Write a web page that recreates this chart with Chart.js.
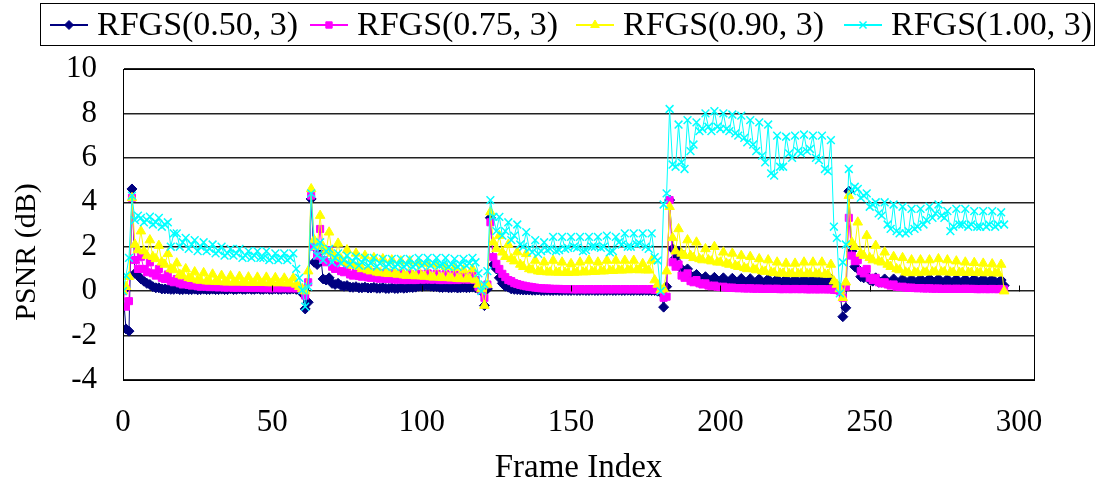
<!DOCTYPE html>
<html>
<head>
<meta charset="utf-8">
<title>RFGS PSNR</title>
<script src="https://cdn.jsdelivr.net/npm/chart.js@4.4.0/dist/chart.umd.min.js"></script>
<style>
  html, body { margin: 0; padding: 0; background: #fff; }
  #wrap { width: 1097px; height: 486px; }
</style>
</head>
<body>
<div id="wrap"><canvas id="myChart" width="1097" height="486"></canvas></div>
<script>
// series names, in legend order
var seriesNames = ['RFGS(0.50, 3)', 'RFGS(0.75, 3)', 'RFGS(0.90, 3)', 'RFGS(1.00, 3)'];

// PSNR gain (dB) per frame, frames 0..295
var rfgs050 = [
  0.0, -1.7, -1.8, 4.6, 0.8, 0.7, 0.55, 0.45, 0.35, 0.3,
  0.2, 0.15, 0.15, 0.1, 0.1, 0.1, 0.08, 0.08, 0.1, 0.07,
  0.07, 0.09, 0.07, 0.07, 0.09, 0.06, 0.07, 0.09, 0.07, 0.07,
  0.09, 0.07, 0.07, 0.09, 0.07, 0.07, 0.1, 0.07, 0.08, 0.1,
  0.08, 0.08, 0.1, 0.08, 0.08, 0.1, 0.08, 0.08, 0.1, 0.08,
  0.08, 0.1, 0.08, 0.08, 0.1, 0.08, 0.09, 0.1, 0.08, 0.05,
  -0.1, -0.8, -0.5, 4.15, 1.3, 1.2, 1.8, 0.55, 0.5, 0.6,
  0.35, 0.3, 0.35, 0.25, 0.22, 0.25, 0.18, 0.17, 0.2, 0.15,
  0.15, 0.18, 0.14, 0.14, 0.17, 0.13, 0.13, 0.16, 0.12, 0.12,
  0.15, 0.12, 0.12, 0.15, 0.13, 0.14, 0.17, 0.16, 0.18, 0.22,
  0.22, 0.24, 0.25, 0.22, 0.2, 0.2, 0.17, 0.16, 0.18, 0.15,
  0.15, 0.17, 0.14, 0.15, 0.17, 0.15, 0.16, 0.18, 0.15, 0.1,
  0.0, -0.65, 0.1, 3.3, 1.2, 1.0, 0.6, 0.35, 0.22, 0.18,
  0.1, 0.08, 0.07, 0.06, 0.05, 0.05, 0.05, 0.04, 0.04, 0.05,
  0.03, 0.03, 0.04, 0.03, 0.03, 0.04, 0.03, 0.03, 0.04, 0.03,
  0.03, 0.04, 0.03, 0.03, 0.04, 0.03, 0.03, 0.04, 0.03, 0.03,
  0.04, 0.03, 0.03, 0.04, 0.03, 0.03, 0.04, 0.03, 0.03, 0.04,
  0.03, 0.03, 0.04, 0.03, 0.03, 0.04, 0.03, 0.03, 0.03, 0.0,
  -0.05, -0.72, 0.2, 4.1, 1.9, 1.5, 1.8, 1.0, 0.9, 1.0,
  0.7, 0.65, 0.75, 0.55, 0.55, 0.65, 0.5, 0.5, 0.62, 0.45,
  0.45, 0.6, 0.42, 0.42, 0.58, 0.4, 0.4, 0.57, 0.38, 0.38,
  0.56, 0.37, 0.37, 0.55, 0.36, 0.36, 0.55, 0.35, 0.35, 0.55,
  0.35, 0.36, 0.55, 0.35, 0.36, 0.56, 0.36, 0.36, 0.56, 0.36,
  0.37, 0.57, 0.37, 0.37, 0.57, 0.36, 0.37, 0.55, 0.35, 0.25,
  0.0, -1.15, -0.75, 4.5, 1.8, 1.1, 1.0, 0.65, 0.6, 0.7,
  0.5, 0.45, 0.6, 0.4, 0.4, 0.55, 0.38, 0.38, 0.55, 0.36,
  0.36, 0.55, 0.36, 0.36, 0.55, 0.36, 0.36, 0.56, 0.37, 0.37,
  0.57, 0.37, 0.37, 0.56, 0.36, 0.36, 0.55, 0.36, 0.36, 0.55,
  0.36, 0.36, 0.55, 0.37, 0.37, 0.56, 0.37, 0.37, 0.56, 0.37,
  0.37, 0.56, 0.37, 0.37, 0.5, 0.25
];

var rfgs075 = [
  0.0, -0.7, -0.45, 4.2, 1.4, 1.0, 1.55, 1.0, 0.85, 1.3,
  0.8, 0.7, 1.0, 0.6, 0.55, 0.75, 0.45, 0.4, 0.55, 0.35,
  0.3, 0.45, 0.28, 0.25, 0.35, 0.22, 0.2, 0.28, 0.2, 0.18,
  0.25, 0.18, 0.17, 0.22, 0.16, 0.16, 0.21, 0.15, 0.15, 0.2,
  0.15, 0.14, 0.19, 0.14, 0.14, 0.18, 0.14, 0.13, 0.18, 0.13,
  0.13, 0.17, 0.13, 0.13, 0.17, 0.13, 0.13, 0.17, 0.12, 0.15,
  0.05, -0.2, 0.4, 4.3, 2.0, 1.6, 2.8, 1.4, 1.3, 1.85,
  1.1, 1.0, 1.35, 0.9, 0.85, 1.1, 0.75, 0.7, 1.0, 0.68,
  0.65, 0.9, 0.62, 0.6, 0.85, 0.58, 0.56, 0.82, 0.55, 0.54,
  0.8, 0.52, 0.52, 0.8, 0.5, 0.5, 0.78, 0.5, 0.5, 0.78,
  0.52, 0.52, 0.8, 0.52, 0.52, 0.78, 0.5, 0.5, 0.76, 0.5,
  0.5, 0.75, 0.5, 0.52, 0.75, 0.52, 0.52, 0.78, 0.5, 0.2,
  0.05, -0.3, 0.3, 3.1, 1.53, 1.23, 1.0, 0.78, 0.63, 0.5,
  0.45, 0.36, 0.32, 0.28, 0.25, 0.22, 0.2, 0.18, 0.16, 0.14,
  0.13, 0.12, 0.12, 0.11, 0.1, 0.1, 0.1, 0.09, 0.09, 0.09,
  0.09, 0.08, 0.08, 0.09, 0.08, 0.08, 0.09, 0.08, 0.08, 0.09,
  0.08, 0.08, 0.09, 0.08, 0.08, 0.09, 0.08, 0.08, 0.09, 0.08,
  0.08, 0.09, 0.08, 0.08, 0.09, 0.08, 0.08, 0.09, 0.06, 0.06,
  0.05, -0.3, -0.25, 4.1, 1.3, 1.1, 1.2, 0.7, 0.6, 0.8,
  0.45, 0.4, 0.5, 0.35, 0.3, 0.35, 0.25, 0.22, 0.25, 0.2,
  0.18, 0.2, 0.16, 0.15, 0.16, 0.14, 0.13, 0.14, 0.12, 0.12,
  0.13, 0.11, 0.11, 0.12, 0.1, 0.1, 0.11, 0.1, 0.1, 0.11,
  0.09, 0.09, 0.1, 0.09, 0.09, 0.1, 0.09, 0.09, 0.1, 0.08,
  0.08, 0.09, 0.08, 0.08, 0.09, 0.08, 0.08, 0.08, 0.06, 0.05,
  0.0, -0.3, 0.2, 3.3, 1.6, 1.35, 1.4, 0.9, 0.8, 1.0,
  0.6, 0.5, 0.6, 0.4, 0.35, 0.4, 0.3, 0.25, 0.3, 0.2,
  0.18, 0.2, 0.16, 0.15, 0.16, 0.14, 0.13, 0.14, 0.12, 0.12,
  0.13, 0.11, 0.11, 0.12, 0.1, 0.1, 0.11, 0.1, 0.1, 0.11,
  0.1, 0.1, 0.11, 0.1, 0.1, 0.1, 0.09, 0.09, 0.1, 0.09,
  0.09, 0.1, 0.09, 0.09, 0.1, 0.08
];

var rfgs090 = [
  0.0, 0.2, 0.65, 4.2, 2.1, 1.85, 2.7, 1.8, 1.6, 2.3,
  1.55, 1.45, 2.05, 1.3, 1.2, 1.68, 1.0, 0.95, 1.26, 0.75,
  0.68, 1.0, 0.6, 0.56, 0.86, 0.5, 0.48, 0.82, 0.45, 0.44,
  0.76, 0.43, 0.42, 0.7, 0.41, 0.4, 0.68, 0.4, 0.4, 0.66,
  0.4, 0.39, 0.63, 0.38, 0.38, 0.62, 0.38, 0.38, 0.62, 0.37,
  0.37, 0.6, 0.37, 0.37, 0.58, 0.36, 0.36, 0.58, 0.3, 0.2,
  0.1, 0.0, 0.9, 4.6, 2.3, 2.0, 3.4, 2.0, 1.8, 2.65,
  1.7, 1.5, 2.15, 1.45, 1.3, 1.85, 1.25, 1.15, 1.7, 1.1,
  1.0, 1.6, 0.95, 0.9, 1.5, 0.85, 0.82, 1.45, 0.8, 0.78,
  1.4, 0.78, 0.75, 1.35, 0.72, 0.7, 1.35, 0.7, 0.68, 1.3,
  0.68, 0.66, 1.25, 0.64, 0.62, 1.2, 0.62, 0.6, 1.1, 0.6,
  0.58, 1.05, 0.56, 0.55, 0.95, 0.55, 0.55, 1.0, 0.5, 0.3,
  0.1, -0.65, 0.3, 3.56, 2.2, 1.9, 2.5, 1.75, 1.55, 2.1,
  1.45, 1.35, 1.76, 1.2, 1.1, 1.68, 1.0, 0.95, 1.38, 0.9,
  0.88, 1.3, 0.86, 0.85, 1.38, 0.85, 0.84, 1.3, 0.84, 0.83,
  1.23, 0.84, 0.85, 1.3, 0.86, 0.86, 1.38, 0.88, 0.88, 1.3,
  0.9, 0.9, 1.38, 0.92, 0.92, 1.38, 0.94, 0.94, 1.38, 0.95,
  0.96, 1.38, 0.96, 0.95, 1.23, 0.95, 0.94, 1.38, 0.5, 0.3,
  0.05, 0.1, 0.9, 3.8, 2.4, 1.8, 2.8, 1.7, 1.6, 2.3,
  1.6, 1.5, 2.2, 1.45, 1.4, 1.9, 1.4, 1.35, 2.0, 1.3,
  1.3, 1.75, 1.25, 1.2, 1.7, 1.15, 1.1, 1.6, 1.05, 1.0,
  1.55, 1.0, 0.95, 1.45, 0.9, 0.88, 1.4, 0.85, 0.82, 1.3,
  0.8, 0.8, 1.25, 0.78, 0.78, 1.25, 0.78, 0.78, 1.3, 0.78,
  0.78, 1.3, 0.78, 0.77, 1.3, 0.76, 0.75, 1.2, 0.45, 0.3,
  0.1, -0.3, 0.4, 4.3, 2.2, 2.0, 3.1, 1.7, 1.6, 2.5,
  1.5, 1.4, 2.05, 1.35, 1.3, 1.75, 1.2, 1.1, 1.55, 1.0,
  0.95, 1.5, 0.85, 0.82, 1.4, 0.85, 0.82, 1.4, 0.85, 0.85,
  1.4, 0.86, 0.86, 1.45, 0.86, 0.86, 1.4, 0.85, 0.84, 1.35,
  0.84, 0.84, 1.3, 0.84, 0.83, 1.28, 0.83, 0.82, 1.25, 0.82,
  0.82, 1.22, 0.82, 0.8, 1.2, 0.0
];

var rfgs100 = [
  0.0, 0.7, 1.5, 4.3, 3.2, 3.4, 3.3, 3.1, 3.2, 3.35,
  3.0, 3.1, 3.3, 2.9, 3.0, 3.1, 2.0, 2.6, 2.6, 2.0,
  2.2, 2.4, 1.9, 2.1, 2.3, 1.8, 2.0, 2.2, 1.8, 1.9,
  2.1, 1.7, 1.8, 2.0, 1.6, 1.7, 1.9, 1.6, 1.7, 1.9,
  1.5, 1.6, 1.8, 1.5, 1.6, 1.8, 1.5, 1.5, 1.8, 1.4,
  1.5, 1.7, 1.4, 1.5, 1.7, 1.4, 1.5, 1.7, 1.0, 0.6,
  0.05, -0.7, 0.2, 4.4, 2.0, 1.6, 2.2, 1.4, 1.8, 1.9,
  1.3, 1.5, 1.7, 1.25, 1.4, 1.6, 1.2, 1.35, 1.55, 1.15,
  1.3, 1.5, 1.15, 1.25, 1.5, 1.1, 1.25, 1.45, 1.1, 1.2,
  1.45, 1.1, 1.2, 1.45, 1.1, 1.2, 1.45, 1.1, 1.2, 1.5,
  1.15, 1.25, 1.5, 1.15, 1.25, 1.5, 1.15, 1.2, 1.5, 1.1,
  1.2, 1.45, 1.1, 1.2, 1.45, 1.15, 1.25, 1.5, 1.3, 0.8,
  0.0, 0.3, 0.9, 4.1, 3.34, 2.7, 3.34, 2.5, 2.7, 3.1,
  2.3, 2.5, 3.0, 2.1, 2.0, 2.66, 1.9, 1.76, 2.3, 1.68,
  1.8, 2.2, 1.85, 1.9, 2.44, 1.8, 1.85, 2.44, 1.9, 1.95,
  2.44, 2.0, 1.95, 2.44, 1.8, 1.85, 2.44, 2.0, 2.0, 2.44,
  1.95, 2.0, 2.5, 1.75, 1.8, 2.44, 2.2, 2.1, 2.6, 2.0,
  2.0, 2.6, 2.1, 2.15, 2.6, 2.0, 1.9, 2.6, 1.53, 1.38,
  0.0, 3.9, 4.4, 8.2, 5.7, 5.6, 7.5, 5.8, 5.5, 7.7,
  6.3, 6.6, 7.6, 7.2, 7.3, 8.0, 7.4, 7.2, 8.1, 7.4,
  7.3, 8.0, 7.3, 7.2, 7.95, 7.1, 7.0, 7.9, 6.9, 6.7,
  7.7, 6.6, 6.3, 7.6, 6.1, 5.8, 7.5, 5.3, 5.2, 7.0,
  5.6, 5.6, 6.95, 6.2, 6.0, 7.0, 6.3, 6.2, 7.05, 6.3,
  6.4, 7.0, 6.0, 5.9, 7.0, 5.5, 5.4, 6.8, 2.9, 2.4,
  -0.1, 1.3, 2.1, 5.5, 4.5, 4.7, 4.6, 4.2, 4.3, 4.4,
  3.8, 3.9, 4.0, 3.5, 3.4, 4.0, 3.0, 2.8, 3.9, 2.7,
  2.6, 3.8, 2.6, 2.7, 3.7, 2.8, 2.9, 3.7, 3.0, 3.2,
  3.8, 3.3, 3.5, 3.9, 3.4, 3.3, 3.6, 2.7, 2.9, 3.7,
  3.0, 3.0, 3.7, 2.9, 3.0, 3.6, 2.9, 2.9, 3.6, 2.9,
  3.0, 3.6, 2.9, 3.0, 3.55, 3.0
];

// axis ticks
var xTicks = [0, 50, 100, 150, 200, 250, 300];
var yTicks = [-4, -2, 0, 2, 4, 6, 8, 10];

var frames = rfgs050.map(function (v, i) { return i; });

function toPoints(vals) {
  return vals.map(function (v, i) { return { x: frames[i], y: v }; });
}

var colors = ['#000080', '#FF00FF', '#FFFF00', '#00FFFF'];
var styles = ['rectRot', 'rect', 'triangle', 'crossRot'];
var radii = [5, 5, 5.5, 5.5];
var markerBorders = [1, 1, 1, 1.5];

var serif = '"Liberation Serif", "Times New Roman", serif';

// plot frame, tick marks on the zero line, y title and the boxed legend
var extras = {
  id: 'extras',
  afterDraw: function (chart) {
    var ctx = chart.ctx;
    var a = chart.chartArea;
    var xs = chart.scales.x, ys = chart.scales.y;
    ctx.save();
    ctx.strokeStyle = '#000';
    ctx.lineWidth = 1;
    ctx.strokeRect(Math.round(a.left) + 0.5, Math.round(a.top) + 0.5,
      Math.round(a.right - a.left), Math.round(a.bottom - a.top));

    var y0 = Math.round(ys.getPixelForValue(0)) + 0.5;
    ctx.beginPath();
    xTicks.forEach(function (t) {
      var px = Math.round(xs.getPixelForValue(t)) + 0.5;
      ctx.moveTo(px, y0);
      ctx.lineTo(px, y0 - 6);
    });
    ctx.stroke();

    // y axis title
    ctx.fillStyle = '#000';
    ctx.font = '30px ' + serif;
    ctx.textAlign = 'center';
    ctx.textBaseline = 'middle';
    ctx.translate(27, 252);
    ctx.rotate(-Math.PI / 2);
    ctx.fillText('PSNR (dB)', 0, 0);
    ctx.restore();

    // legend
    ctx.save();
    ctx.strokeStyle = '#000';
    ctx.lineWidth = 1;
    ctx.strokeRect(40.5, 3.5, 1054, 42);
    var textX = [97, 357, 623, 891];
    var ly = 25;
    ctx.font = '34px ' + serif;
    ctx.textAlign = 'left';
    ctx.textBaseline = 'middle';
    chart.data.datasets.forEach(function (ds, i) {
      var lx = textX[i] - 47;
      ctx.strokeStyle = ds.borderColor;
      ctx.lineWidth = 2;
      ctx.beginPath();
      ctx.moveTo(lx, ly);
      ctx.lineTo(lx + 38, ly);
      ctx.stroke();
      ctx.fillStyle = ds.backgroundColor;
      ctx.lineWidth = ds.pointBorderWidth;
      Chart.helpers.drawPoint(ctx, {
        pointStyle: ds.pointStyle, radius: ds.pointRadius - 0.5, rotation: 0, borderWidth: ds.pointBorderWidth
      }, lx + 19, ly);
      ctx.fillStyle = '#000';
      ctx.fillText(ds.label, textX[i], ly + 1);
    });
    ctx.restore();
  }
};

var datasets = [rfgs050, rfgs075, rfgs090, rfgs100].map(function (vals, i) {
  return {
    label: seriesNames[i],
    data: toPoints(vals),
    borderColor: colors[i],
    backgroundColor: colors[i],
    borderWidth: 1,
    pointStyle: styles[i],
    pointRadius: radii[i],
    pointBorderWidth: markerBorders[i],
    pointBorderColor: colors[i],
    pointBackgroundColor: colors[i],
    tension: 0,
    order: 3 - i
  };
});

var ctx = document.getElementById('myChart').getContext('2d');
var myChart = new Chart(ctx, {
  type: 'line',
  data: { datasets: datasets },
  options: {
    responsive: false,
    animation: false,
    devicePixelRatio: 1,
    layout: { padding: { top: 69, right: 63, left: 0, bottom: 0 } },
    plugins: {
      legend: { display: false },
      tooltip: { enabled: false }
    },
    scales: {
      x: {
        type: 'linear',
        min: 0,
        max: 305,
        afterBuildTicks: function (scale) {
          scale.ticks = xTicks.map(function (v) { return { value: v }; });
        },
        afterFit: function (scale) { scale.height = 106; },
        grid: { display: false, drawTicks: false },
        border: { display: true, color: '#000', width: 1 },
        ticks: {
          color: '#000',
          font: { family: serif, size: 31 },
          padding: 24,
          maxRotation: 0
        },
        title: {
          display: true,
          text: 'Frame Index',
          color: '#000',
          font: { family: serif, size: 33, lineHeight: 1.1 },
          padding: 0
        }
      },
      y: {
        min: -4,
        max: 10,
        afterBuildTicks: function (scale) {
          scale.ticks = yTicks.map(function (v) { return { value: v }; });
        },
        afterFit: function (scale) { scale.width = 123; },
        grid: { color: '#222', lineWidth: 1.4, drawTicks: false },
        border: { display: true, color: '#000', width: 1 },
        ticks: {
          color: '#000',
          font: { family: serif, size: 31 },
          padding: 26
        }
      }
    }
  },
  plugins: [extras]
});
</script>
</body>
</html>
